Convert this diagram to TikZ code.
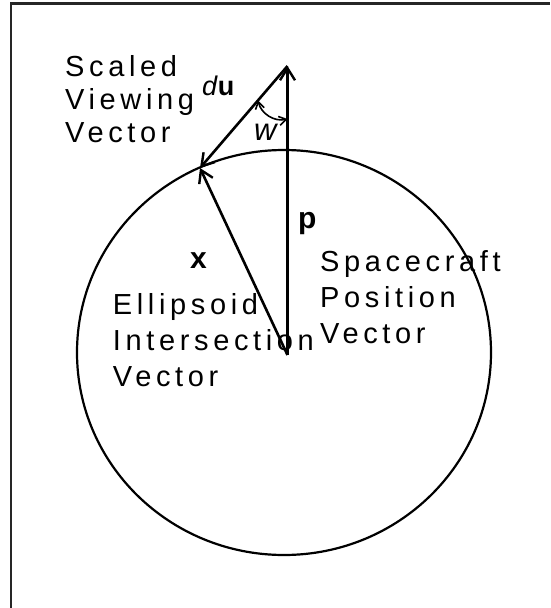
\documentclass[tikz,border=0pt]{standalone}
\usepackage{fontspec}
\setmainfont{Liberation Sans}
\newfontfamily\lblfont[LetterSpace=16]{Liberation Sans}
\usetikzlibrary{arrows.meta, positioning, calc}
\tikzset{
    vec_arrow/.style={
        -{Straight Barb[length=12pt, width=15pt, line width=2.4pt]},
        line width=2.6pt, draw=black
    },
    angle_arrow/.style={
        {Straight Barb[length=7pt, width=9pt, line width=1.6pt]}-{Straight Barb[length=7pt, width=9pt, line width=1.6pt]},
        line width=1.6pt, draw=black
    },
    body_line/.style={line width=2.2pt, draw=black},
    frame_line/.style={line width=2.2pt, draw=black!85},
    txt_lbl/.style={
        inner sep=0pt, anchor=base west, align=left,
        font=\lblfont\fontsize{29}{36}\selectfont
    },
    sym_lbl/.style={
        inner sep=0pt, anchor=base west,
        font=\fontsize{30}{30}\selectfont
    }
}

\begin{document}
\begin{tikzpicture}[x=1pt, y=-1pt]
\useasboundingbox (0,0) rectangle (550,608);
\draw[frame_line] (11,608) -- (11,3.5) -- (550,3.5);

\draw[body_line] (284,352.5) ellipse [x radius=207, y radius=202.5];

\coordinate (origin) at (287.5,355);
\coordinate (craft) at (287.5,66);
\coordinate (hit) at (200,168);
\coordinate (w_start) at ($(craft)!0.337!(hit)$);
\coordinate (w_end) at (287.5,119);

\draw[vec_arrow] (origin) -- (craft);
\draw[vec_arrow] (origin) -- (hit);
\draw[vec_arrow] (craft) -- (hit);
\draw[angle_arrow] (w_start) to[bend right=45] (w_end);

% base anchor sits on the last line
\node[txt_lbl, font=\lblfont\fontsize{29}{33}\selectfont] (scaled) at (65,142) {Scaled\\Viewing\\Vector};
\node[sym_lbl, font=\fontsize{27}{27}\selectfont] (du) at (202,95) {\textit{d}\textbf{u}};
\node[sym_lbl, font=\fontsize{31}{31}\selectfont] (w) at (254,140) {\textit{w}};
\node[sym_lbl] (p) at (298,228) {\textbf{p}};
\node[sym_lbl] (x) at (190,268) {\textbf{x}};
\node[txt_lbl] (craft_lbl) at (320,343) {Spacecraft\\Position\\Vector};
\node[txt_lbl] (hit_lbl) at (112.7,386) {Ellipsoid\\Intersection\\Vector};
\end{tikzpicture}
\end{document}
